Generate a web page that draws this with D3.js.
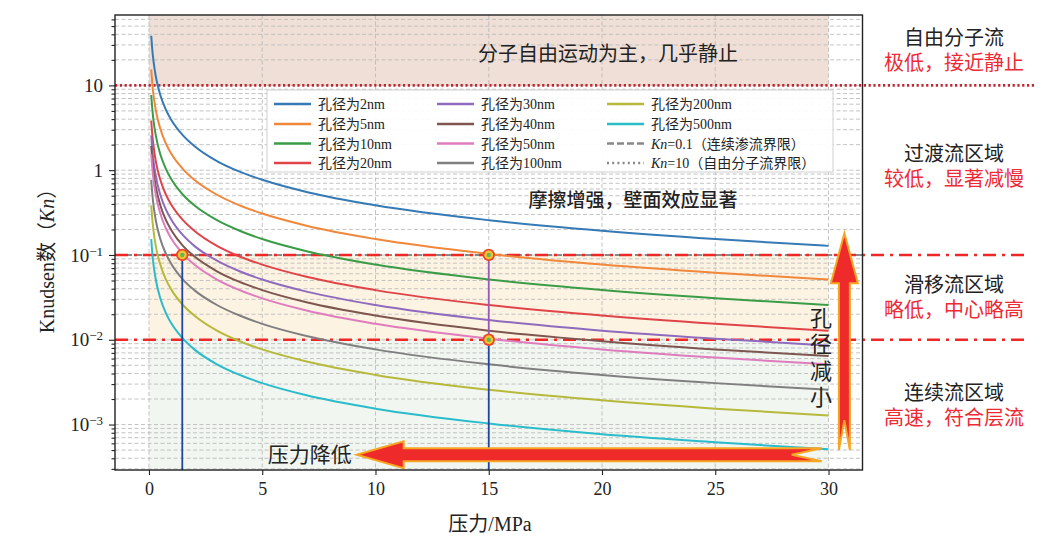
<!DOCTYPE html>
<html>
<head>
<meta charset="utf-8">
<script src="https://cdn.jsdelivr.net/npm/d3@7"></script>
<style>
  body { margin: 0; background: #fff; }
  text { font-family: "Liberation Serif", "Noto Sans CJK SC", serif; fill: #222; }
</style>
</head>
<body>
<svg id="chart" width="1040" height="543"></svg>
<script>
// pressure (MPa) sample points
var pressure = [0.1, 0.15, 0.2, 0.3, 0.5, 0.75, 1, 1.5, 2, 3, 4, 5, 7, 10, 15, 20, 25, 30];

var kn2   = [38.5, 25.7, 19.3, 12.8, 7.7, 5.13, 3.85, 2.57, 1.93, 1.28, 0.96, 0.77, 0.55, 0.385, 0.257, 0.193, 0.154, 0.128];
var kn5   = [15.4, 10.3, 7.7, 5.13, 3.08, 2.05, 1.54, 1.03, 0.77, 0.513, 0.385, 0.308, 0.22, 0.154, 0.103, 0.077, 0.0616, 0.0513];
var kn10  = [7.7, 5.13, 3.85, 2.57, 1.54, 1.03, 0.77, 0.513, 0.385, 0.257, 0.193, 0.154, 0.11, 0.077, 0.0513, 0.0385, 0.0308, 0.0257];
var kn20  = [3.85, 2.57, 1.93, 1.28, 0.77, 0.513, 0.385, 0.257, 0.193, 0.128, 0.096, 0.077, 0.055, 0.0385, 0.0257, 0.0193, 0.0154, 0.0128];
var kn30  = [2.57, 1.71, 1.28, 0.856, 0.513, 0.342, 0.257, 0.171, 0.128, 0.0856, 0.0642, 0.0513, 0.0367, 0.0257, 0.0171, 0.0128, 0.0103, 0.00856];
var kn40  = [1.93, 1.28, 0.963, 0.642, 0.385, 0.257, 0.193, 0.128, 0.0963, 0.0642, 0.0481, 0.0385, 0.0275, 0.0193, 0.0128, 0.00963, 0.0077, 0.00642];
var kn50  = [1.54, 1.03, 0.77, 0.513, 0.308, 0.205, 0.154, 0.103, 0.077, 0.0513, 0.0385, 0.0308, 0.022, 0.0154, 0.0103, 0.0077, 0.00616, 0.00513];
var kn100 = [0.77, 0.513, 0.385, 0.257, 0.154, 0.103, 0.077, 0.0513, 0.0385, 0.0257, 0.0193, 0.0154, 0.011, 0.0077, 0.00513, 0.00385, 0.00308, 0.00257];
var kn200 = [0.385, 0.257, 0.193, 0.128, 0.077, 0.0513, 0.0385, 0.0257, 0.0193, 0.0128, 0.0096, 0.0077, 0.0055, 0.00385, 0.00257, 0.00193, 0.00154, 0.00128];
var kn500 = [0.154, 0.103, 0.077, 0.0513, 0.0308, 0.0205, 0.0154, 0.0103, 0.0077, 0.00513, 0.00385, 0.00308, 0.0022, 0.00154, 0.00103, 0.00077, 0.00062, 0.00051];

var poreNames = ["孔径为2nm", "孔径为5nm", "孔径为10nm", "孔径为20nm", "孔径为30nm",
                 "孔径为40nm", "孔径为50nm", "孔径为100nm", "孔径为200nm", "孔径为500nm"];
var poreValues = [kn2, kn5, kn10, kn20, kn30, kn40, kn50, kn100, kn200, kn500];

var xTicks = [0, 5, 10, 15, 20, 25, 30];
var yTicks = [0.001, 0.01, 0.1, 1, 10];

// flow regime boundaries and highlighted points
var knFree = 10, knTrans = 0.1, knSlip = 0.01;
var markers = [{p: 1.47, kn: 0.1}, {p: 15, kn: 0.1}, {p: 15, kn: 0.01}];

var regimeNames = ["自由分子流", "过渡流区域", "滑移流区域", "连续流区域"];
var regimeNotes = ["极低，接近静止", "较低，显著减慢", "略低，中心略高", "高速，符合层流"];

var colors = ["#3579b5", "#f0873a", "#3b9c47", "#df4449", "#8f6bbd",
              "#7d5650", "#de7cbd", "#7f7f7f", "#b6b93a", "#2abccb"];

var pLeft = 115, pRight = 862.5, pTop = 15, pBottom = 470;

var svg = d3.select("#chart");

var x = d3.scaleLinear().domain([-1.5, 31.5]).range([pLeft, pRight]);
var y = d3.scaleLog().domain([Math.pow(10, -3.536), Math.pow(10, 1.83)]).range([pBottom, pTop]);

// minor log ticks
var minor = [];
for (var e = -4; e <= 1; e++) {
    for (var m = 2; m <= 9; m++) {
        var v = m * Math.pow(10, e);
        if (v > y.domain()[0] && v < y.domain()[1]) minor.push(v);
    }
}

// shaded regimes between p=0 and p=30
var bands = [
    {lo: knFree, hi: y.domain()[1], fill: "#efdfd6"},
    {lo: knSlip, hi: knTrans, fill: "#fdf3e3"},
    {lo: y.domain()[0], hi: knSlip, fill: "#f1f6f1"}
];
svg.selectAll(".band").data(bands).enter().append("rect")
    .attr("x", x(0)).attr("width", x(30) - x(0))
    .attr("y", function(d) { return y(d.hi); })
    .attr("height", function(d) { return y(d.lo) - y(d.hi); })
    .attr("fill", function(d) { return d.fill; });

// grid
var grid = svg.append("g").attr("stroke", "#bcbcbc").attr("stroke-width", 0.9).attr("stroke-dasharray", "4,2.5");
grid.selectAll(".gy").data(yTicks.concat(minor)).enter().append("line")
    .attr("x1", pLeft).attr("x2", pRight)
    .attr("y1", function(d) { return y(d); }).attr("y2", function(d) { return y(d); });
grid.selectAll(".gx").data(xTicks).enter().append("line")
    .attr("y1", pTop).attr("y2", pBottom)
    .attr("x1", function(d) { return x(d); }).attr("x2", function(d) { return x(d); });

// boundary lines
svg.append("line").attr("x1", pLeft).attr("x2", pRight)
    .attr("y1", y(knTrans)).attr("y2", y(knTrans))
    .attr("stroke", "#888").attr("stroke-width", 2).attr("stroke-dasharray", "7,3");
svg.append("line").attr("x1", pLeft).attr("x2", 1036)
    .attr("y1", y(knFree)).attr("y2", y(knFree))
    .attr("stroke", "#c0272d").attr("stroke-width", 2.6).attr("stroke-dasharray", "2.2,2.6");
[knTrans, knSlip].forEach(function(k) {
    svg.append("line").attr("x1", pLeft).attr("x2", 1026)
        .attr("y1", y(k)).attr("y2", y(k))
        .attr("stroke", "#ee2727").attr("stroke-width", 2.6).attr("stroke-dasharray", "13,6,3,6");
});

// curves
svg.append("clipPath").attr("id", "clip").append("rect")
    .attr("x", pLeft).attr("y", pTop).attr("width", pRight - pLeft).attr("height", pBottom - pTop);

var line = d3.line()
    .curve(d3.curveMonotoneX)
    .x(function(d) { return x(d[0]); })
    .y(function(d) { return y(d[1]); });

svg.append("g").attr("clip-path", "url(#clip)")
    .selectAll("path").data(poreValues).enter().append("path")
    .attr("d", function(vals) { return line(vals.map(function(v, i) { return [pressure[i], v]; })); })
    .attr("fill", "none")
    .attr("stroke", function(d, i) { return colors[i]; })
    .attr("stroke-width", 2);

// drop lines from the marked points
svg.append("line").attr("x1", x(markers[0].p)).attr("x2", x(markers[0].p))
    .attr("y1", y(markers[0].kn)).attr("y2", pBottom)
    .attr("stroke", "#1f45a3").attr("stroke-width", 1.8);
svg.append("line").attr("x1", x(markers[1].p)).attr("x2", x(markers[1].p))
    .attr("y1", y(markers[1].kn)).attr("y2", y(markers[2].kn))
    .attr("stroke", "#9b59b6").attr("stroke-width", 1.8);
svg.append("line").attr("x1", x(markers[2].p)).attr("x2", x(markers[2].p))
    .attr("y1", y(markers[2].kn)).attr("y2", pBottom)
    .attr("stroke", "#1f45a3").attr("stroke-width", 1.8);

var mk = svg.selectAll(".mk").data(markers).enter().append("g")
    .attr("transform", function(d) { return "translate(" + x(d.p) + "," + y(d.kn) + ")"; });
mk.append("circle").attr("r", 6.2).attr("fill", "#e8482c");
mk.append("circle").attr("r", 4.4).attr("fill", "#f4c62a");
mk.append("circle").attr("r", 2.2).attr("fill", "#62b65c");

// big arrows (pressure decreases / pore size decreases)
var hy = y(4.4e-4), hx1 = x(9.17), hx2 = x(29.7);
var hArrow = [[hx1, hy], [hx1 + 47, hy - 13.5], [hx1 + 47, hy - 6.5], [hx2, hy - 6.5],
              [hx2 - 30, hy], [hx2, hy + 6.5], [hx1 + 47, hy + 6.5], [hx1 + 47, hy + 13.5]];
var vx = x(30.7), vy1 = y(0.18), vy2 = y(5.0e-4);
var vArrow = [[vx, vy1], [vx + 13.5, vy1 + 50], [vx + 5.5, vy1 + 50], [vx + 5.5, vy2],
              [vx, vy2 - 30], [vx - 5.5, vy2], [vx - 5.5, vy1 + 50], [vx - 13.5, vy1 + 50]];
[hArrow, vArrow].forEach(function(pts) {
    svg.append("path").attr("d", "M" + pts.join("L") + "Z")
        .attr("fill", "#ee2a2a").attr("stroke", "#f6a623").attr("stroke-width", 2)
        .attr("stroke-linejoin", "miter");
});

svg.append("text").attr("x", hx1 - 5).attr("y", hy).attr("dy", "0.36em")
    .attr("text-anchor", "end").attr("font-size", 21).text("压力降低");
svg.append("g").selectAll("text").data(["孔", "径", "减", "小"]).enter().append("text")
    .attr("x", 821).attr("y", function(d, i) { return 318 + i * 26.3; })
    .attr("dy", "0.36em").attr("text-anchor", "middle").attr("font-size", 22).text(function(d) { return d; });

svg.append("text").attr("x", 608).attr("y", 54).attr("dy", "0.36em")
    .attr("text-anchor", "middle").attr("font-size", 20).text("分子自由运动为主，几乎静止");
svg.append("text").attr("x", 633).attr("y", 200).attr("dy", "0.36em")
    .attr("text-anchor", "middle").attr("font-size", 19).attr("font-weight", 500).text("摩擦增强，壁面效应显著");

// regime labels on the right
var regimeY = [38, 154, 284.5, 393];
regimeNames.forEach(function(n, i) {
    svg.append("text").attr("x", 954).attr("y", regimeY[i]).attr("dy", "0.36em")
        .attr("text-anchor", "middle").attr("font-size", 20).text(n);
    svg.append("text").attr("x", 954).attr("y", regimeY[i] + 25).attr("dy", "0.36em")
        .attr("text-anchor", "middle").attr("font-size", 20).style("fill", "#ee2a36").text(regimeNotes[i]);
});

// legend
var lg = svg.append("g");
lg.append("rect").attr("x", 267).attr("y", 90).attr("width", 566).attr("height", 82)
    .attr("fill", "#fff").attr("fill-opacity", 0.92).attr("stroke", "#d0d0d0").attr("stroke-width", 1);
var colX = [274, 437, 607], rowY = [104, 124, 143.5, 163];
var items = poreNames.map(function(n, i) { return {name: n, color: colors[i], dash: null}; });
items.push({kn: "=0.1（连续渗流界限）", color: "#888", dash: "7,3"});
items.push({kn: "=10（自由分子流界限）", color: "#888", dash: "2,3.2"});
items.forEach(function(it, i) {
    var cx = colX[Math.floor(i / 4)], cy = rowY[i % 4];
    lg.append("line").attr("x1", cx).attr("x2", cx + 37).attr("y1", cy).attr("y2", cy)
        .attr("stroke", it.color).attr("stroke-width", 2.6).attr("stroke-dasharray", it.dash);
    var t = lg.append("text").attr("x", cx + 44).attr("y", cy).attr("dy", "0.36em").attr("font-size", 14);
    if (it.name) t.text(it.name);
    else {
        t.append("tspan").attr("font-style", "italic").text("Kn");
        t.append("tspan").text(it.kn);
    }
});

// axes
var supers = {"-1": "−1", "-2": "−2", "-3": "−3"};
var yAxis = svg.append("g").attr("transform", "translate(" + pLeft + ",0)")
    .call(d3.axisLeft(y).tickValues(yTicks).tickSize(6).tickPadding(6));
yAxis.selectAll(".tick text").each(function(d) {
    var t = d3.select(this).text(null).attr("font-size", 19).style("fill", "#222");
    var ex = Math.round(Math.log10(d));
    if (ex === 0) t.text("1");
    else if (ex === 1) t.text("10");
    else {
        t.append("tspan").text("10");
        t.append("tspan").attr("dy", "-0.45em").attr("font-size", 13).text(supers[ex]);
    }
});
svg.append("g").attr("transform", "translate(" + pLeft + ",0)")
    .call(d3.axisLeft(y).tickValues(minor).tickSize(3.5).tickFormat(""));
var xAxis = svg.append("g").attr("transform", "translate(0," + pBottom + ")")
    .call(d3.axisBottom(x).tickValues(xTicks).tickSize(5).tickPadding(7));
xAxis.selectAll(".tick text").attr("font-size", 18).style("fill", "#222");
svg.selectAll(".domain").remove();
svg.selectAll(".tick line").attr("stroke", "#222").attr("stroke-width", 1.1);
svg.selectAll(".tick text").attr("font-family", "Liberation Serif");

svg.append("rect").attr("x", pLeft).attr("y", pTop).attr("width", pRight - pLeft).attr("height", pBottom - pTop)
    .attr("fill", "none").attr("stroke", "#222").attr("stroke-width", 1.4);

svg.append("text").attr("x", 490).attr("y", 524).attr("dy", "0.36em")
    .attr("text-anchor", "middle").attr("font-size", 20).text("压力/MPa");
var yl = svg.append("text").attr("transform", "translate(47,256) rotate(-90)").attr("dy", "0.36em")
    .attr("text-anchor", "middle").attr("font-size", 20);
yl.append("tspan").text("Knudsen数（");
yl.append("tspan").attr("font-style", "italic").text("Kn");
yl.append("tspan").text("）");
</script>
</body>
</html>
